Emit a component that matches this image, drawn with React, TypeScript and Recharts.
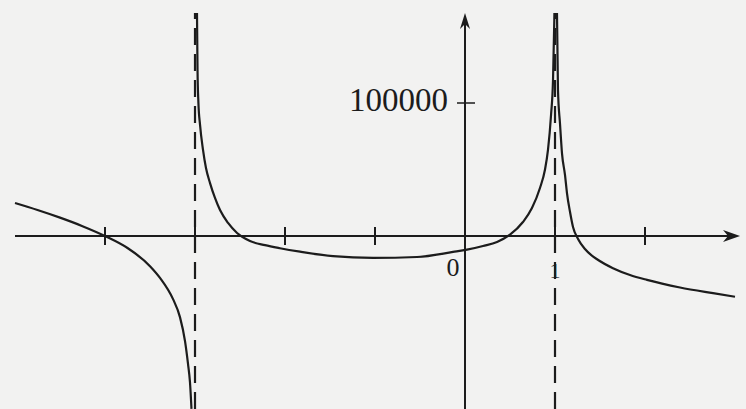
import React from 'react';
import {
  ComposedChart,
  Line,
  XAxis,
  YAxis,
  ReferenceLine,
  ReferenceDot,
} from 'recharts';

// Graph of a rational function with vertical asymptotes at x = -3 and x = 1.
// Left branch: x < -3
const branchLeft = [
  { x: -5.0, y: 24800 },
  { x: -4.75, y: 19550 },
  { x: -4.5, y: 13800 },
  { x: -4.25, y: 7400 },
  { x: -4.0, y: 0 },
  { x: -3.75, y: -9000 },
  { x: -3.5, y: -22700 },
  { x: -3.389, y: -31500 },
  { x: -3.244, y: -47500 },
  { x: -3.167, y: -61000 },
  { x: -3.111, y: -79000 },
  { x: -3.078, y: -96000 },
  { x: -3.056, y: -109800 },
  { x: -3.039, y: -130000 },
];

// Middle branch: -3 < x < 1
const branchMiddle = [
  { x: -2.978, y: 167600 },
  { x: -2.972, y: 125000 },
  { x: -2.962, y: 100000 },
  { x: -2.944, y: 83500 },
  { x: -2.911, y: 64700 },
  { x: -2.878, y: 51100 },
  { x: -2.833, y: 39800 },
  { x: -2.778, y: 28600 },
  { x: -2.722, y: 19500 },
  { x: -2.633, y: 9800 },
  { x: -2.533, y: 2300 },
  { x: -2.389, y: -3800 },
  { x: -2.222, y: -6900 },
  { x: -2.056, y: -9200 },
  { x: -1.833, y: -11800 },
  { x: -1.467, y: -15200 },
  { x: -1.022, y: -16500 },
  { x: -0.533, y: -15800 },
  { x: -0.133, y: -12000 },
  { x: 0.022, y: -10300 },
  { x: 0.2, y: -7500 },
  { x: 0.356, y: -4500 },
  { x: 0.5, y: 1000 },
  { x: 0.644, y: 10500 },
  { x: 0.744, y: 21000 },
  { x: 0.833, y: 36100 },
  { x: 0.889, y: 50000 },
  { x: 0.922, y: 64700 },
  { x: 0.956, y: 91000 },
  { x: 0.978, y: 117300 },
  { x: 0.994, y: 167600 },
];

// Right branch: x > 1
const branchRight = [
  { x: 1.022, y: 167600 },
  { x: 1.033, y: 110000 },
  { x: 1.056, y: 84000 },
  { x: 1.078, y: 62000 },
  { x: 1.111, y: 45900 },
  { x: 1.133, y: 32300 },
  { x: 1.167, y: 18000 },
  { x: 1.2, y: 6800 },
  { x: 1.256, y: -2200 },
  { x: 1.333, y: -9800 },
  { x: 1.4, y: -14200 },
  { x: 1.467, y: -17500 },
  { x: 1.644, y: -24200 },
  { x: 1.833, y: -29300 },
  { x: 2.022, y: -33000 },
  { x: 2.389, y: -38700 },
  { x: 2.756, y: -43000 },
  { x: 3.0, y: -45700 },
];

const xTickValues = [-4, -3, -2, -1, 1, 2];
const asymptoteXs = [-3, 1];
const yTickValue = 100000;
const yTickLabel = '100000';
const originLabel = '0';
const asymptoteLabel = '1';

// Visible window and axis extents
const X_MIN = -5.1667;
const X_MAX = 3.1222;
const Y_MIN = -130075;
const Y_MAX = 177444;
const X_AXIS_START = -5;
const X_AXIS_END = 3.056;
const Y_AXIS_TOP = 167600;

const INK = '#1c1c1c';
const SERIF = '"Liberation Serif", "DejaVu Serif", serif';

const XTickMark = (p: any) => (
  <line x1={p.cx} x2={p.cx} y1={p.cy - 9} y2={p.cy + 9} stroke={INK} strokeWidth={2} />
);

const ArrowRight = (p: any) => (
  <path
    d={`M${p.cx},${p.cy} L${p.cx - 17},${p.cy - 6} L${p.cx - 12},${p.cy} L${p.cx - 17},${p.cy + 6} Z`}
    fill={INK}
  />
);

const ArrowUp = (p: any) => (
  <path
    d={`M${p.cx},${p.cy} L${p.cx - 5},${p.cy + 16} L${p.cx},${p.cy + 11} L${p.cx + 5},${p.cy + 16} Z`}
    fill={INK}
  />
);

const YTickWithLabel = (p: any) => (
  <g>
    <line x1={p.cx - 8} x2={p.cx + 10} y1={p.cy} y2={p.cy} stroke={INK} strokeWidth={1.5} />
    <text
      x={p.cx - 17}
      y={p.cy + 8}
      textAnchor="end"
      fontFamily={SERIF}
      fontSize={33}
      fill={INK}
    >
      {yTickLabel}
    </text>
  </g>
);

const OriginText = (p: any) => (
  <text x={p.cx - 12} y={p.cy + 40} textAnchor="middle" fontFamily={SERIF} fontSize={26} fill={INK}>
    {originLabel}
  </text>
);

const OneText = (p: any) => (
  <text x={p.cx} y={p.cy + 42} textAnchor="middle" fontFamily={SERIF} fontSize={22} fill={INK}>
    {asymptoteLabel}
  </text>
);

const curveProps = {
  dataKey: 'y',
  type: 'monotone' as const,
  stroke: INK,
  strokeWidth: 2.2,
  dot: false,
  activeDot: false,
  isAnimationActive: false,
};

export default function App() {
  return (
    <div
      style={{
        position: 'absolute',
        left: 0,
        top: 0,
        width: 746,
        height: 409,
        background: '#f2f2f1',
      }}
    >
      <ComposedChart width={746} height={409} margin={{ top: 0, right: 0, bottom: 0, left: 0 }}>
        <XAxis type="number" dataKey="x" domain={[X_MIN, X_MAX]} allowDataOverflow hide />
        <YAxis type="number" dataKey="y" domain={[Y_MIN, Y_MAX]} allowDataOverflow hide />

        {asymptoteXs.map((ax) => (
          <ReferenceLine
            key={`asym-${ax}`}
            segment={[
              { x: ax, y: Y_MIN },
              { x: ax, y: Y_AXIS_TOP },
            ]}
            stroke={INK}
            strokeWidth={2.2}
            strokeDasharray="17 9"
          />
        ))}

        <ReferenceLine
          segment={[
            { x: X_AXIS_START, y: 0 },
            { x: X_AXIS_END - 0.1, y: 0 },
          ]}
          stroke={INK}
          strokeWidth={2}
        />
        <ReferenceLine
          segment={[
            { x: 0, y: Y_MIN },
            { x: 0, y: Y_AXIS_TOP - 8000 },
          ]}
          stroke={INK}
          strokeWidth={2}
        />
        <ReferenceDot x={X_AXIS_END} y={0} shape={ArrowRight} />
        <ReferenceDot x={0} y={Y_AXIS_TOP} shape={ArrowUp} />

        {xTickValues.map((t) => (
          <ReferenceDot key={`tick-${t}`} x={t} y={0} shape={XTickMark} />
        ))}
        <ReferenceDot x={0} y={yTickValue} shape={YTickWithLabel} />
        <ReferenceDot x={0} y={0} shape={OriginText} />
        <ReferenceDot x={1} y={0} shape={OneText} />

        <Line data={branchLeft} {...curveProps} />
        <Line data={branchMiddle} {...curveProps} />
        <Line data={branchRight} {...curveProps} />
      </ComposedChart>
    </div>
  );
}
